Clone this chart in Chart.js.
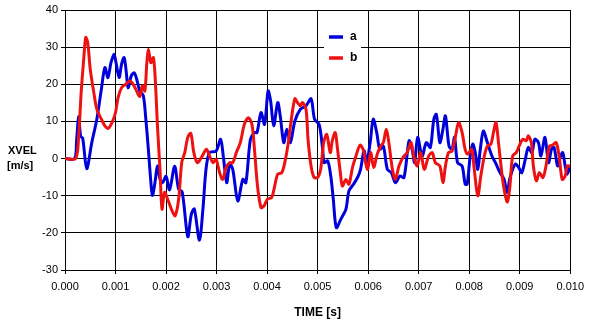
<!DOCTYPE html>
<html>
<head>
<meta charset="utf-8">
<script src="https://cdn.jsdelivr.net/npm/chart.js@4.4.1/dist/chart.umd.min.js"></script>
<style>
  html, body { margin: 0; padding: 0; background: #fff; }
  #wrap { width: 590px; height: 326px; }
</style>
</head>
<body>
<div id="wrap"><canvas id="velChart" width="590" height="326"></canvas></div>
<script>
// series a (blue): time in ms, velocity in m/s
const aTimeMs = [0, 0.19, 0.23, 0.27, 0.31, 0.35, 0.43, 0.53, 0.63, 0.72, 0.79, 0.85, 0.91, 0.97, 1.01, 1.07, 1.12, 1.17, 1.21, 1.25, 1.31, 1.37, 1.42, 1.48, 1.55, 1.6, 1.65, 1.69, 1.73, 1.78, 1.83, 1.88, 1.93, 2.0, 2.07, 2.17, 2.25, 2.32, 2.43, 2.5, 2.56, 2.66, 2.73, 2.79, 2.86, 2.99, 3.08, 3.14, 3.2, 3.26, 3.32, 3.42, 3.52, 3.58, 3.67, 3.75, 3.8, 3.88, 3.95, 4.02, 4.07, 4.13, 4.21, 4.26, 4.33, 4.39, 4.46, 4.55, 4.66, 4.77, 4.87, 4.94, 5.03, 5.1, 5.13, 5.2, 5.26, 5.31, 5.37, 5.46, 5.56, 5.62, 5.71, 5.79, 5.85, 5.92, 5.97, 6.04, 6.1, 6.17, 6.23, 6.3, 6.38, 6.46, 6.54, 6.63, 6.71, 6.81, 6.87, 6.92, 6.98, 7.07, 7.15, 7.23, 7.3, 7.35, 7.42, 7.48, 7.53, 7.6, 7.66, 7.71, 7.77, 7.86, 7.92, 7.96, 8.02, 8.07, 8.12, 8.17, 8.22, 8.28, 8.36, 8.45, 8.52, 8.61, 8.69, 8.75, 8.81, 8.91, 8.98, 9.04, 9.11, 9.17, 9.24, 9.3, 9.37, 9.42, 9.5, 9.57, 9.63, 9.68, 9.75, 9.8, 9.85, 9.9, 9.94, 10];
const aVel = [0, 0, 5, 11.3, 6, 5.5, -2.7, 4.3, 10.6, 18.7, 24.5, 21.8, 25.8, 28.1, 25.8, 21.8, 25.4, 27.2, 23.6, 19.1, 22.2, 23.1, 21.3, 18.2, 16.9, 10.6, 2.5, -4.7, -9.9, -6.5, -2, -5.5, -6.5, -4.8, -8.4, -2.1, -8.3, -9, -21, -15, -13.6, -22, -13.6, -3, 1.6, 2, 5.2, -0.2, -6.5, -1.5, -2.9, -11.4, -5.6, -6.5, 5.2, 7, 7, 12.4, 9.2, 18.2, 15.5, 8.8, 15.1, 11.5, 4.3, 7.9, 4.3, 10.1, 13.3, 14.2, 16.1, 10.6, 9.2, 2.5, -1.1, -0.6, -4.7, -10.9, -18.6, -16.3, -13.6, -8.7, -6.9, -5.1, -2.9, 2.1, -1.1, 4.3, 10.6, 7, 2.5, 3.4, -2.9, -3.8, -6.5, -4.7, -5.1, 4.8, 2.5, -1.1, 5.7, 0.7, 4.3, 3, 10.6, 11.9, 4.3, 7.9, 11.5, 3.4, 2.5, 5.7, -1.1, -2, -6.9, -6.9, 0.7, 3.9, 1.6, -2.9, 2.5, 7.4, 4.3, 0.7, -1.1, -3.8, -5.6, -9.1, -5.1, -1.5, -2.4, -3.8, -0.2, 3, 1.6, 5.2, 4.3, 0.7, 5.7, -1.1, 2.5, 3, -2, 0.3, 1.6, -2, -4.2, -2];

// series b (red)
const bTimeMs = [0, 0.21, 0.27, 0.32, 0.37, 0.41, 0.45, 0.5, 0.57, 0.63, 0.72, 0.79, 0.85, 0.93, 1.0, 1.05, 1.12, 1.2, 1.28, 1.33, 1.4, 1.48, 1.53, 1.58, 1.62, 1.65, 1.7, 1.75, 1.79, 1.83, 1.88, 1.92, 1.97, 2.03, 2.08, 2.12, 2.18, 2.25, 2.31, 2.37, 2.43, 2.49, 2.55, 2.62, 2.7, 2.8, 2.86, 2.93, 2.99, 3.06, 3.12, 3.19, 3.26, 3.32, 3.39, 3.47, 3.55, 3.63, 3.7, 3.75, 3.81, 3.88, 3.94, 4.01, 4.09, 4.15, 4.21, 4.29, 4.35, 4.42, 4.48, 4.55, 4.6, 4.66, 4.7, 4.77, 4.81, 4.87, 4.93, 5.0, 5.06, 5.12, 5.18, 5.25, 5.29, 5.35, 5.39, 5.45, 5.49, 5.56, 5.62, 5.69, 5.75, 5.84, 5.91, 5.95, 5.99, 6.05, 6.11, 6.18, 6.25, 6.3, 6.36, 6.41, 6.48, 6.54, 6.61, 6.69, 6.77, 6.85, 6.9, 6.97, 7.04, 7.11, 7.2, 7.27, 7.33, 7.42, 7.48, 7.53, 7.59, 7.66, 7.73, 7.79, 7.86, 7.92, 7.97, 8.05, 8.1, 8.17, 8.23, 8.3, 8.36, 8.43, 8.48, 8.53, 8.58, 8.63, 8.68, 8.75, 8.8, 8.86, 8.93, 8.99, 9.06, 9.13, 9.17, 9.23, 9.27, 9.33, 9.39, 9.46, 9.52, 9.59, 9.65, 9.72, 9.78, 9.84, 9.9, 9.94, 10];
const bVel = [0, 0, 6.1, 17.8, 26.7, 32.6, 31.2, 24, 17.8, 13.3, 10.6, 8.8, 8.1, 9.7, 12.4, 16.4, 19.1, 20, 20.9, 20.4, 18.7, 16.7, 19.6, 18.2, 25.8, 29.4, 25.8, 27.2, 20.4, 8.8, -2.9, -13.6, -9.1, -10.9, -12.7, -14.1, -15.4, -10.9, -1.1, 1.6, 5.7, 6.8, 1.6, -1.1, 0.3, 2.5, 0.7, -1.1, -0.2, -3.8, -5.6, -2.4, -1.1, -1.1, 1.6, 4.3, 9.2, 11, 9.2, 2.5, -7.4, -13.2, -12.7, -10.9, -10.5, -7.4, -4.2, -3.8, -1.1, 4.3, 10.6, 16.1, 15.1, 14.2, 15.1, 13.3, 5.2, -2, -5.1, -5.1, -2.9, 4.3, 6.5, 1.6, 4.8, 7, 3, -3.8, -7.4, -5.6, -6.9, -2.4, 0.3, 3.6, 2.1, -1.1, -2.9, 1.6, -2.4, 1.2, 3.4, 4.3, 7.9, 4.3, -2.9, -5.6, -2, 0.3, 1.6, 4.3, 0.7, -2, 1.6, -2.9, 0.7, 1.6, -1.1, -2, -6.5, -2, 1.6, 2, 6.1, 9.7, 7, 2.5, 1.2, 2.5, -2.9, -10, -4.7, 0.7, 3.4, 3.9, 7, 9.7, 4.3, -2, -7.4, -11.7, -8.3, 0.7, 1.6, 3.4, 5.2, 4.8, 6.1, 4.3, -2, -6, -3.8, -5.1, -2, 3.4, 3.6, 4.3, 0.7, -5.6, -4.7, -2, -2];

const seriesNames = ['a', 'b'];
const seriesColors = ['#0000dd', '#ee1111'];
const timeTicks = [0, 0.001, 0.002, 0.003, 0.004, 0.005, 0.006, 0.007, 0.008, 0.009, 0.010];
const velTicks = [-30, -20, -10, 0, 10, 20, 30, 40];

const FONT = '"Liberation Sans", Arial, sans-serif';

function toPoints(timesMs, vals) {
    return timesMs.map((t, i) => ({ x: t / 1000, y: vals[i] }));
}

// legend box and the horizontal y-axis title
const extrasPlugin = {
    id: 'extras',
    afterDraw(chart) {
        const ctx = chart.ctx;
        ctx.save();

        // y axis title, two lines, not rotated
        ctx.fillStyle = '#000';
        ctx.font = 'bold 11px ' + FONT;
        ctx.textAlign = 'left';
        ctx.textBaseline = 'middle';
        ctx.fillText('XVEL', 8, 151);
        ctx.fillText('[m/s]', 7, 166);

        // legend
        ctx.fillStyle = '#fff';
        ctx.fillRect(324, 28, 37, 38);
        chart.data.datasets.forEach((ds, i) => {
            const y = 37 + i * 21;
            ctx.strokeStyle = ds.borderColor;
            ctx.lineWidth = 3.5;
            ctx.beginPath();
            ctx.moveTo(329, y);
            ctx.lineTo(343, y);
            ctx.stroke();
            ctx.fillStyle = '#000';
            ctx.font = 'bold 12px ' + FONT;
            ctx.fillText(ds.label, 350, y);
        });
        ctx.restore();
    }
};

new Chart(document.getElementById('velChart'), {
    type: 'line',
    data: {
        datasets: [
            {
                label: seriesNames[0],
                data: toPoints(aTimeMs, aVel),
                borderColor: seriesColors[0],
                borderWidth: 3,
                pointRadius: 0,
                tension: 0.3,
                order: 1
            },
            {
                label: seriesNames[1],
                data: toPoints(bTimeMs, bVel),
                borderColor: seriesColors[1],
                borderWidth: 3,
                pointRadius: 0,
                tension: 0.3,
                order: 0
            }
        ]
    },
    options: {
        responsive: false,
        animation: false,
        layout: { padding: { top: 10, right: 19, left: 0, bottom: 0 } },
        plugins: {
            legend: { display: false },
            tooltip: { enabled: false }
        },
        scales: {
            x: {
                type: 'linear',
                min: 0,
                max: 0.01,
                afterBuildTicks: s => { s.ticks = timeTicks.map(v => ({ value: v })); },
                afterFit: s => { s.height = 56; },
                ticks: {
                    color: '#000',
                    font: { family: FONT, size: 11 },
                    padding: 6,
                    maxRotation: 0,
                    callback: v => v.toFixed(3)
                },
                grid: { color: '#000', lineWidth: 1, tickLength: 4 },
                border: { color: '#000', width: 1 },
                title: {
                    display: true,
                    text: 'TIME [s]',
                    color: '#000',
                    font: { family: FONT, size: 12, weight: 'bold' },
                    padding: { top: 2, bottom: 6 }
                }
            },
            y: {
                min: -30,
                max: 40,
                afterBuildTicks: s => { s.ticks = velTicks.map(v => ({ value: v })); },
                afterFit: s => { s.width = 65; },
                ticks: {
                    color: '#000',
                    font: { family: FONT, size: 11 },
                    padding: 3
                },
                grid: { color: '#000', lineWidth: 1, tickLength: 4 },
                border: { color: '#000', width: 1 }
            }
        }
    },
    plugins: [extrasPlugin]
});
</script>
</body>
</html>
